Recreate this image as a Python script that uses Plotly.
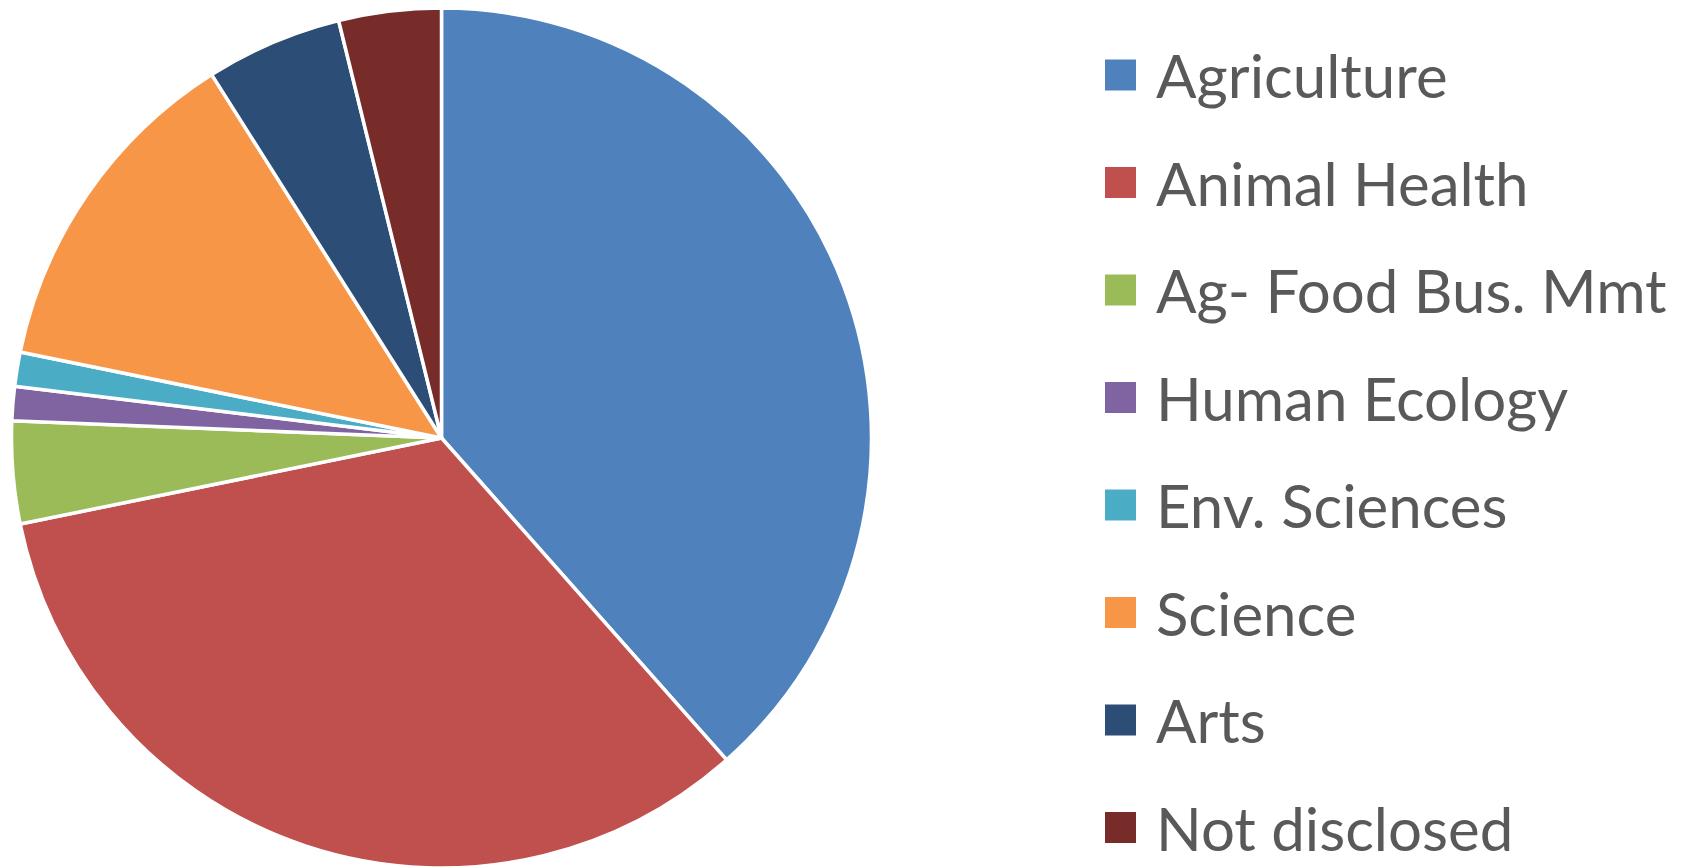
import plotly.graph_objects as go

categories = ["Agriculture", "Animal Health", "Ag- Food Bus. Mmt", "Human Ecology",
              "Env. Sciences", "Science", "Arts", "Not disclosed"]
counts = [30, 26, 3, 1, 1, 10, 4, 3]
colors = ["#4F81BD", "#C0504D", "#9BBB59", "#8064A2", "#4BACC6", "#F79646", "#2C4D75", "#772C2A"]

W, H = 1696, 868

fig = go.Figure(go.Pie(
    labels=categories, values=counts, sort=False, direction="clockwise", rotation=0,
    marker=dict(colors=colors, line=dict(color="white", width=3.5)),
    textinfo="none", hoverinfo="label+value+percent", showlegend=False,
    domain=dict(x=[3 / W, 864 / W], y=[1 - 860 / H, 1.0]),
))

# legend drawn as layout shapes + text
row0, step = 67, 107.5
sq = 31
shapes, annotations = [], []
for i, (name, col) in enumerate(zip(categories, colors)):
    cy = row0 + i * step
    shapes.append(dict(type="rect", xref="paper", yref="paper",
                       x0=1097 / W, x1=(1097 + sq) / W,
                       y0=1 - (cy + sq / 2) / H, y1=1 - (cy - sq / 2) / H,
                       fillcolor=col, line=dict(width=0)))
    annotations.append(dict(text=name, xref="paper", yref="paper",
                            x=1146 / W, y=1 - cy / H, xanchor="left", yanchor="middle",
                            showarrow=False,
                            font=dict(family="Lato", size=60, color="#595959")))

fig.update_layout(width=W, height=H, margin=dict(l=0, r=0, t=0, b=0),
                  paper_bgcolor="white", plot_bgcolor="white",
                  shapes=shapes, annotations=annotations)
fig.write_html("out.html")
